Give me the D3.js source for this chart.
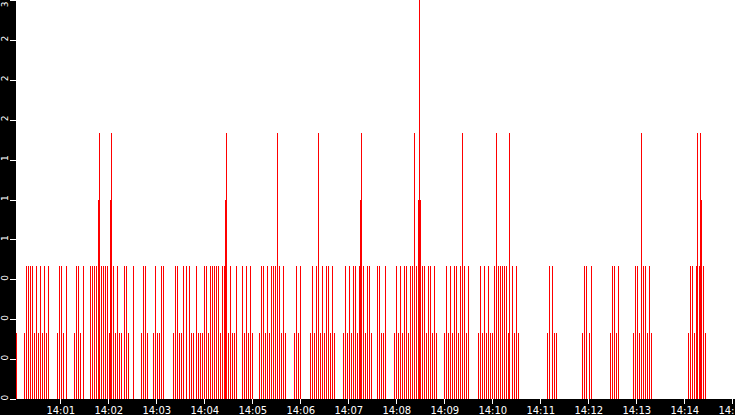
<!DOCTYPE html>
<html>
<head>
<meta charset="utf-8">
<script src="https://cdn.jsdelivr.net/npm/d3@7"></script>
<style>
  body { margin: 0; background: #fff; }
  svg { display: block; }
  text { font-family: "DejaVu Sans", sans-serif; }
</style>
</head>
<body>
<div id="graphe"></div>
<script>
// secondes apres 14:00:00 pour chaque evenement
var secondes = [
  5, 15, 17, 20, 22, 25, 27, 30, 32, 35, 37, 40, 42, 45,
  56, 58, 61, 63, 67, 77, 80, 82, 85, 88,
  97, 100, 102, 105, 107, 108, 111, 113, 116, 118, 121, 122, 123, 126, 128, 131, 133, 136, 140, 142, 145, 151,
  161, 163, 166, 168, 176, 178, 181, 183, 186, 188,
  201, 203, 206, 208, 211, 213, 217, 221, 223, 226,
  230, 232, 235, 237, 240, 242, 245, 247, 250, 252, 255, 257, 260, 262, 265, 266, 267, 270, 272, 275, 277, 280,
  287, 290, 292, 295, 297, 300,
  308, 311, 313, 316, 318, 321, 323, 326, 328, 331, 333, 336, 338, 341,
  352, 355, 357, 360,
  372, 375, 377, 380, 382, 385, 387, 390, 392, 395, 397, 400, 402,
  413, 416, 418, 421, 423, 426, 428, 431, 433, 435, 436, 438, 441, 443, 446, 448,
  456, 458, 461, 463, 466,
  477, 480, 482, 485, 487, 490, 492, 495, 497, 500, 502, 505, 507, 508, 510, 512, 515, 517, 520, 522, 525, 527, 530,
  540, 542, 545, 547, 550, 552, 555, 557, 560, 562, 565, 567, 570,
  582, 585, 587, 590, 592, 595, 597, 600, 602, 605, 607, 610, 612, 615, 617, 620, 621, 625, 627, 630, 632,
  668, 671, 675, 677, 680,
  712, 715, 717, 721, 723,
  747, 750, 752, 755, 757,
  776, 778, 781, 783, 786, 788, 791, 793, 796, 798,
  845, 847, 850, 852, 855, 856, 858, 860, 861, 863, 866
];
var valeurs = [
  0.5, 0.5, 1, 1, 1, 1, 0.5, 1, 0.5, 1, 0.5, 1, 0.5, 1,
  0.5, 1, 1, 0.5, 1, 0.5, 1, 1, 0.5, 1,
  1, 1, 1, 1, 1.5, 2, 1, 1, 1, 1, 0.5, 1.5, 2, 1, 0.5, 1, 0.5, 0.5, 1, 1, 0.5, 1,
  0.5, 1, 1, 0.5, 0.5, 1, 0.5, 0.5, 1, 1,
  0.5, 1, 1, 0.5, 0.5, 1, 1, 1, 0.5, 0.5,
  1, 0.5, 0.5, 0.5, 1, 1, 0.5, 1, 1, 1, 1, 1, 0.5, 1, 1, 1.5, 2, 0.5, 1, 0.5, 0.5, 1,
  1, 0.5, 1, 0.5, 1, 0.5,
  0.5, 1, 1, 0.5, 1, 0.5, 1, 1, 1, 2, 1, 0.5, 1, 0.5,
  0.5, 1, 0.5, 1,
  0.5, 1, 0.5, 1, 2, 0.5, 1, 0.5, 1, 1, 0.5, 1, 0.5,
  0.5, 1, 0.5, 1, 0.5, 1, 1, 0.5, 1, 1.5, 2, 1, 0.5, 1, 1, 0.5,
  1, 1, 0.5, 0.5, 1,
  0.5, 1, 0.5, 1, 0.5, 1, 1, 0.5, 1, 1, 2, 1, 1.5, 3, 1.5, 1, 1, 0.5, 1, 1, 0.5, 1, 0.5,
  0.5, 1, 0.5, 1, 0.5, 1, 1, 0.5, 1, 2, 1, 0.5, 1,
  0.5, 1, 0.5, 1, 0.5, 1, 0.5, 0.5, 1, 2, 1, 1, 1, 1, 1, 0.5, 2, 1, 0.5, 1, 0.5,
  0.5, 1, 1, 0.5, 0.5,
  0.5, 1, 1, 0.5, 1,
  0.5, 1, 1, 0.5, 1,
  0.5, 1, 1, 0.5, 2, 1, 1, 0.5, 1, 0.5,
  0.5, 1, 1, 0.5, 1, 2, 1, 2, 1.5, 1, 0.5
];
var ticksX = ["14:01", "14:02", "14:03", "14:04", "14:05", "14:06", "14:07", "14:08",
              "14:09", "14:10", "14:11", "14:12", "14:13", "14:14", "14:15"];
var ticksY = [0, 0.3, 0.6, 0.9, 1.2, 1.5, 1.8, 2.1, 2.4, 2.7, 3];
var etiquettesY = ["0", "0", "0", "0", "1", "1", "1", "2", "2", "2", "3"];

var largeur = 735, hauteur = 415;
var gauche = 16, bas = 16;

var lireHeure = d3.timeParse("%H:%M");
var debut = lireHeure("14:00");

var svg = d3.select("#graphe").append("svg")
   .attr("width", largeur).attr("height", hauteur);

// bandes noires des axes
svg.append("rect").attr("x", 0).attr("y", 0).attr("width", gauche).attr("height", hauteur).attr("fill", "black");
svg.append("rect").attr("x", 0).attr("y", hauteur - bas).attr("width", largeur).attr("height", bas).attr("fill", "black");

var x = d3.scaleTime()
   .domain([new Date(+debut + 4625), new Date(+debut + 903375)])
   .range([gauche, largeur]);
var y = d3.scaleLinear().domain([0, 3]).range([hauteur - bas, 0]);

var donnees = secondes.map(function (s, i) {
   return { t: d3.timeSecond.offset(debut, s), v: valeurs[i] };
});

svg.append("g").selectAll("rect")
   .data(donnees)
   .join("rect")
   .attr("x", function (d) { return Math.round(x(d.t)); })
   .attr("y", function (d) { return y(d.v); })
   .attr("width", 1)
   .attr("height", function (d) { return y(0) - y(d.v); })
   .attr("fill", "#ff0000")
   .attr("shape-rendering", "crispEdges");

// axe du bas
var axeX = d3.axisBottom(x)
   .tickValues(ticksX.map(function (h) { return lireHeure(h); }))
   .tickFormat(d3.timeFormat("%H:%M"))
   .tickSize(5).tickPadding(3);
var gx = svg.append("g").attr("transform", "translate(0," + (hauteur - bas) + ")").call(axeX);
gx.select(".domain").remove();
gx.selectAll("line").attr("stroke", "white").attr("shape-rendering", "crispEdges");
gx.selectAll("text").attr("fill", "white").attr("font-size", 10).attr("font-family", "DejaVu Sans");

// axe de gauche, etiquettes tournees
var axeY = d3.axisLeft(y)
   .tickValues(ticksY)
   .tickFormat(function (d, i) { return etiquettesY[i]; })
   .tickSize(6);
var gy = svg.append("g").attr("transform", "translate(" + gauche + ",0)").call(axeY);
gy.select(".domain").remove();
gy.selectAll("line").attr("stroke", "white").attr("shape-rendering", "crispEdges");
gy.selectAll("text")
   .attr("x", null).attr("dy", null)
   .attr("fill", "white").attr("font-size", 9).attr("font-family", "DejaVu Sans")
   .attr("text-anchor", function (d) { return y(d) < 6 ? "end" : "start"; })
   .attr("transform", "translate(-8.5,1) rotate(-90)");
</script>
</body>
</html>
